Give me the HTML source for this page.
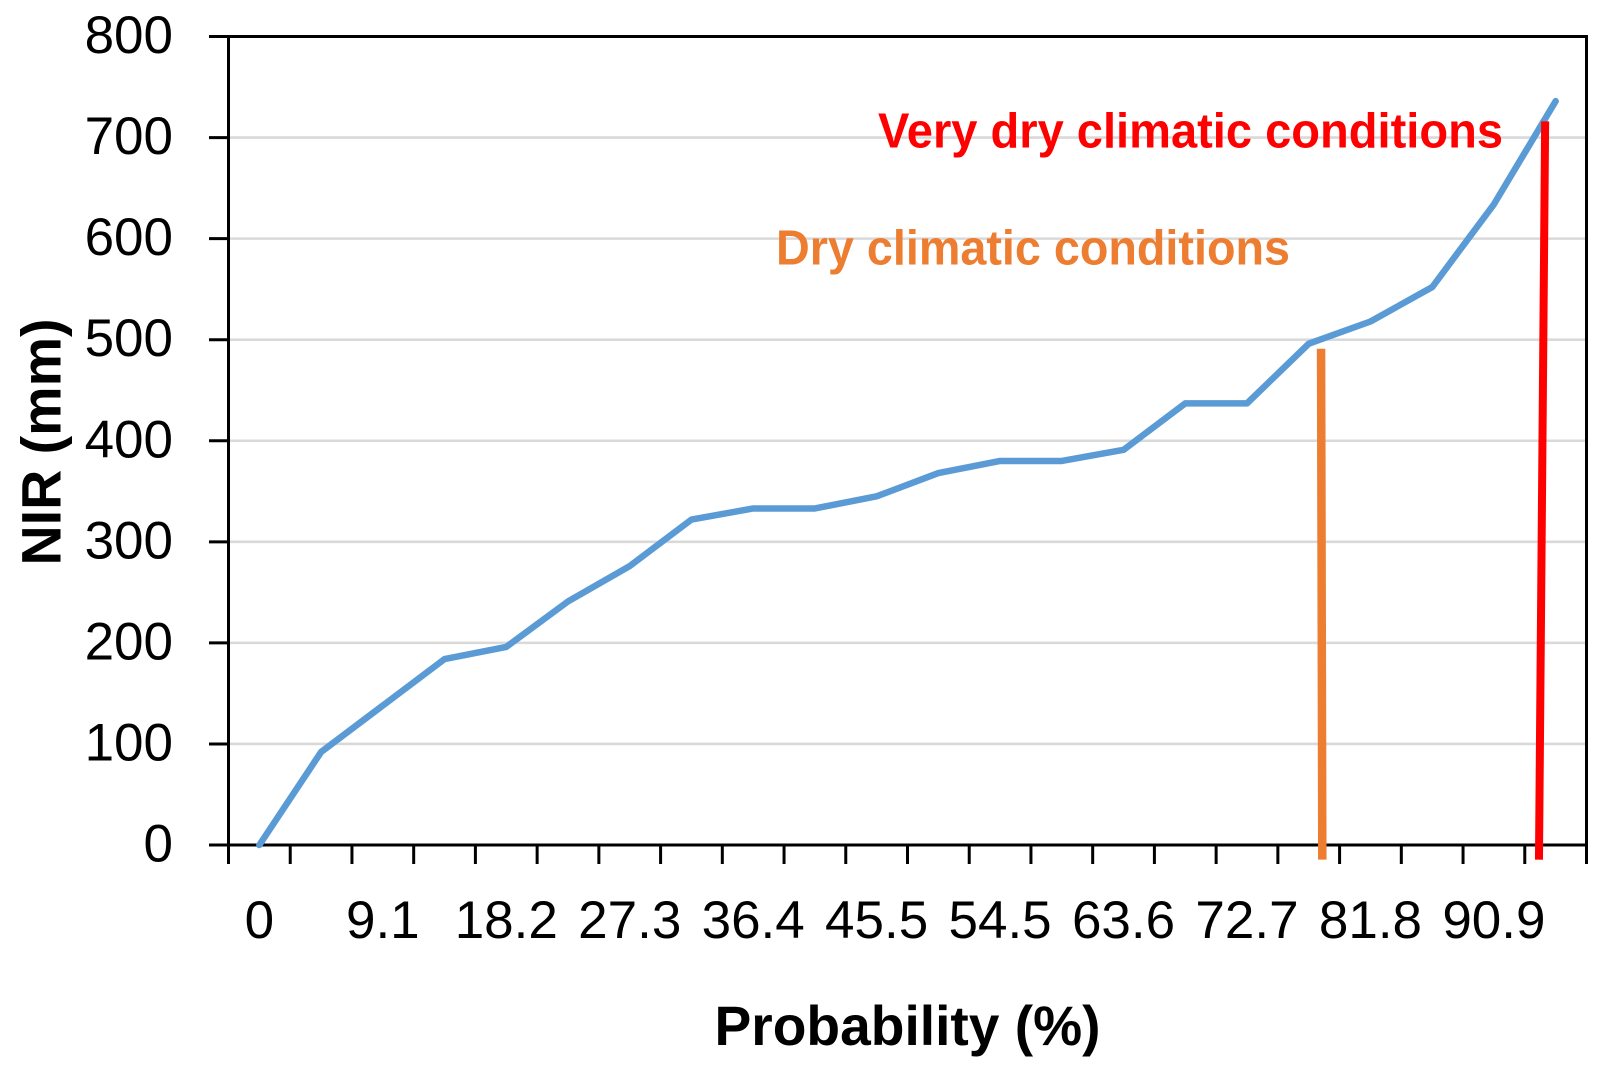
<!DOCTYPE html>
<html lang="en">
<head>
<meta charset="utf-8">
<title>NIR probability chart</title>
<style>
html,body{margin:0;padding:0;background:#fff;width:1610px;height:1080px;overflow:hidden}
svg{display:block}
text{font-family:"Liberation Sans",sans-serif}
</style>
</head>
<body>
<svg id="chart" width="1610" height="1080" viewBox="0 0 1610 1080" xmlns="http://www.w3.org/2000/svg">
<rect width="1610" height="1080" fill="#fff"/>
<g id="grid"></g>
<g id="axes"></g>
<g id="ylabels"></g>
<g id="xlabels"></g>
<g id="series"></g>
<text x="878" y="147.7" font-size="49" font-weight="700" fill="#ff0000" textLength="625" lengthAdjust="spacingAndGlyphs">Very dry climatic conditions</text>
<text x="776" y="264.5" font-size="49" font-weight="700" fill="#ed7d31" textLength="514" lengthAdjust="spacingAndGlyphs">Dry climatic conditions</text>
<text x="714.5" y="1045" font-size="56" font-weight="700" fill="#000" textLength="386" lengthAdjust="spacingAndGlyphs">Probability (%)</text>
<text transform="translate(60.5 565.5) rotate(-90)" x="0" y="0" font-size="56" font-weight="700" fill="#000" textLength="247" lengthAdjust="spacingAndGlyphs">NIR (mm)</text>
</svg>
<script>
const probabilityCategories = ['0','4.5','9.1','13.6','18.2','22.7','27.3','31.8','36.4','40.9','45.5','50','54.5','59.1','63.6','68.2','72.7','77.3','81.8','86.4','90.9','95.5'];
const nirValues = [0,92,138,184,196,241,276,322,333,333,345,368,380,380,391,437,437,496,518,552,634,736];
const yTickValues = [0,100,200,300,400,500,600,700,800];
const dryThresholdTop = 491;
const dryThresholdBottom = -14.5;
const dryThresholdCategory = [17.2,17.22];
const veryDryThresholdTop = 716;
const veryDryThresholdBottom = -14.5;
const veryDryThresholdCategory = [20.83,20.73];

const NS = 'http://www.w3.org/2000/svg';
const plotLeft = 228.5, plotRight = 1586.5, plotTop = 36.5, plotBottom = 845;
const yMax = 800;
const bandWidth = (plotRight - plotLeft) / probabilityCategories.length;
function xScale(i){ return plotLeft + bandWidth * (i + 0.5); }
function yScale(v){ return plotBottom - (v / yMax) * (plotBottom - plotTop); }
function make(tag, attrs, parent){
  const el = document.createElementNS(NS, tag);
  for (const k in attrs) el.setAttribute(k, attrs[k]);
  parent.appendChild(el);
  return el;
}
const grid = document.getElementById('grid');
const axes = document.getElementById('axes');
const ylabels = document.getElementById('ylabels');
const xlabels = document.getElementById('xlabels');
const series = document.getElementById('series');

yTickValues.forEach(function(v){
  const y = yScale(v);
  if (v > 0 && v < yMax) {
    const g = make('line', {x1: plotLeft, x2: plotRight, y1: y, y2: y, stroke: '#d9d9d9', 'stroke-width': 2.6}, grid);
    
    
  }
  const t = make('line', {x1: 209, x2: plotLeft, y1: y, y2: y, stroke: '#000', 'stroke-width': 3}, axes);
  
  
  const l = make('text', {x: 173, y: y + 16.5, 'text-anchor': 'end', 'font-size': 53, fill: '#000'}, ylabels);
  l.textContent = String(v);
  
  
});

const border = make('path', {d: 'M' + plotLeft + ' ' + plotBottom + 'V' + plotTop + 'H' + plotRight + 'V' + plotBottom + 'H' + plotLeft, fill: 'none', stroke: '#000', 'stroke-width': 3}, axes);



for (let i = 0; i <= probabilityCategories.length; i++) {
  const x = plotLeft + bandWidth * i;
  const t = make('line', {x1: x, x2: x, y1: plotBottom, y2: 864, stroke: '#000', 'stroke-width': 3}, axes);
  
  
}

probabilityCategories.forEach(function(c, i){
  if (i % 2 !== 0) return;
  const l = make('text', {x: xScale(i), y: 938, 'text-anchor': 'middle', 'font-size': 53, fill: '#000'}, xlabels);
  l.textContent = c;
  
  
});

const linePath = make('path', {
  d: nirValues.map(function(v, i){ return (i ? 'L' : 'M') + xScale(i).toFixed(2) + ' ' + yScale(v).toFixed(2); }).join(''),
  fill: 'none', stroke: '#5b9bd5', 'stroke-width': 6.5, 'stroke-linecap': 'round', 'stroke-linejoin': 'round'
}, series);



const dryLine = make('line', {
  x1: xScale(dryThresholdCategory[0]), y1: yScale(dryThresholdTop),
  x2: xScale(dryThresholdCategory[1]), y2: yScale(dryThresholdBottom),
  stroke: '#ed7d31', 'stroke-width': 8.5
}, series);



const veryDryLine = make('line', {
  x1: xScale(veryDryThresholdCategory[0]), y1: yScale(veryDryThresholdTop),
  x2: xScale(veryDryThresholdCategory[1]), y2: yScale(veryDryThresholdBottom),
  stroke: '#ff0000', 'stroke-width': 8
}, series);


</script>
</body>
</html>
